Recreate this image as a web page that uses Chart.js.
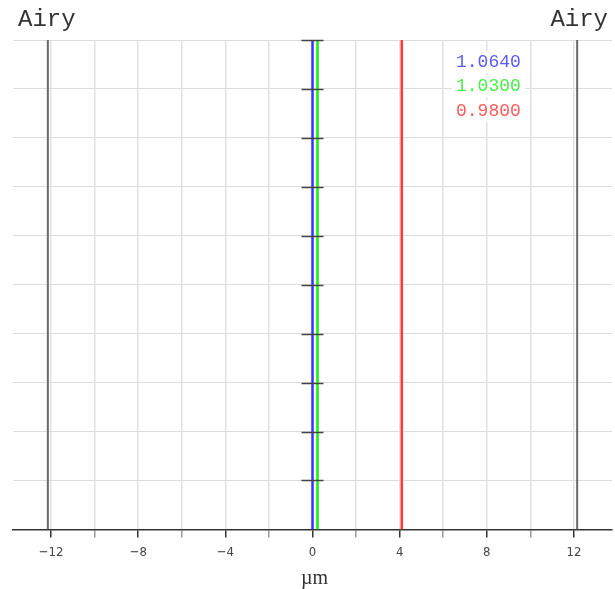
<!DOCTYPE html>
<html>
<head>
<meta charset="utf-8">
<script src="https://cdn.jsdelivr.net/npm/chart.js@4.4.1/dist/chart.umd.min.js"></script>
<style>
  html, body { margin: 0; padding: 0; background: #fff; }
  #wrap { width: 615px; height: 589px; }
</style>
</head>
<body>
<div id="wrap"><canvas id="psf"></canvas></div>
<script>
// data
const xRange = [-13.75, 13.75];         // µm
const yRange = [0, 10];
const airyEdges = [-12.15, 12.15];      // Airy radius markers
const wavelengths = ['1.0640', '1.0300', '0.9800'];
const focusShift = [0, 0.23, 4.1];      // µm, one per wavelength
const xTitle = '\u00b5m';
const waveColors = ['#3535ff', '#10f010', '#ff3c3c'];
const legendColors = ['#5a5aff', '#46f046', '#ff5a5a'];

function vline(x) {
    return [{ x: x, y: yRange[0] }, { x: x, y: yRange[1] }];
}

const datasets = [];
airyEdges.forEach(x => {
    datasets.push({ label: 'Airy', data: vline(x), borderColor: '#6a6a6a', borderWidth: 2, pointRadius: 0, showLine: true });
});
wavelengths.forEach((w, i) => {
    datasets.push({ label: w, data: vline(focusShift[i]), borderColor: waveColors[i], borderWidth: 2.5, pointRadius: 0, showLine: true });
});

const overlay = {
    id: 'overlay',
    afterDatasetsDraw(chart) {
        const ctx = chart.ctx;
        const xs = chart.scales.x, ys = chart.scales.y;
        const x0 = xs.getPixelForValue(0);
        // cross ticks on the centre axis
        ctx.save();
        ctx.strokeStyle = '#444';
        ctx.lineWidth = 1.5;
        ys.ticks.forEach(t => {
            if (t.value <= yRange[0]) return;
            const py = Math.round(ys.getPixelForValue(t.value)) + 0.5;
            ctx.beginPath();
            ctx.moveTo(x0 - 11, py);
            ctx.lineTo(x0 + 11, py);
            ctx.stroke();
        });
        // Airy labels
        ctx.fillStyle = '#333';
        ctx.font = '24px "Liberation Mono", monospace';
        ctx.textBaseline = 'alphabetic';
        ctx.textAlign = 'left';
        ctx.fillText('Airy', 18, 26);
        ctx.textAlign = 'right';
        ctx.fillText('Airy', 608, 26);
        // axis title
        ctx.font = '20px "Liberation Serif", serif';
        ctx.textAlign = 'center';
        ctx.textBaseline = 'middle';
        ctx.fillText(xTitle, x0 + 2, 579);
        // wavelength legend
        ctx.font = '18px "Liberation Mono", monospace';
        ctx.textAlign = 'left';
        wavelengths.forEach((w, i) => {
            const tw = ctx.measureText(w).width;
            ctx.fillStyle = '#fff';
            ctx.fillRect(452, 51 + i * 24.5, tw + 8, 22);
            ctx.fillStyle = legendColors[i];
            ctx.fillText(w, 456, 62 + i * 24.5);
        });
        ctx.restore();
    }
};

new Chart(document.getElementById('psf'), {
    type: 'scatter',
    data: { datasets },
    options: {
        responsive: true,
        maintainAspectRatio: false,
        animation: false,
        layout: { padding: { left: 13, right: 3, top: 40, bottom: 22 } },
        plugins: { legend: { display: false }, tooltip: { enabled: false } },
        scales: {
            x: {
                type: 'linear',
                min: xRange[0],
                max: xRange[1],
                afterBuildTicks: s => {
                    const out = [];
                    for (let v = -12; v <= 12; v += 2) out.push({ value: v });
                    s.ticks = out;
                },
                ticks: {
                    color: '#444',
                    font: { family: '"DejaVu Sans Condensed", "DejaVu Sans", sans-serif', size: 13 },
                    padding: 7,
                    autoSkip: false,
                    maxRotation: 0,
                    callback: v => (v % 4 === 0 ? (v < 0 ? '\u2212' + Math.abs(v) : String(v)) : '')
                },
                grid: {
                    color: '#e2e2e2',
                    lineWidth: 1.5,
                    tickLength: 8,
                    tickColor: c => (c.tick && c.tick.value % 4 === 0 ? '#333' : '#999')
                },
                border: { display: true, color: '#333', width: 1.5 }
            },
            y: {
                type: 'linear',
                min: yRange[0],
                max: yRange[1],
                ticks: { display: false, stepSize: 1 },
                grid: { color: '#dcdcdc', lineWidth: 1, drawTicks: false },
                border: { display: false }
            }
        }
    },
    plugins: [overlay]
});
</script>
</body>
</html>
